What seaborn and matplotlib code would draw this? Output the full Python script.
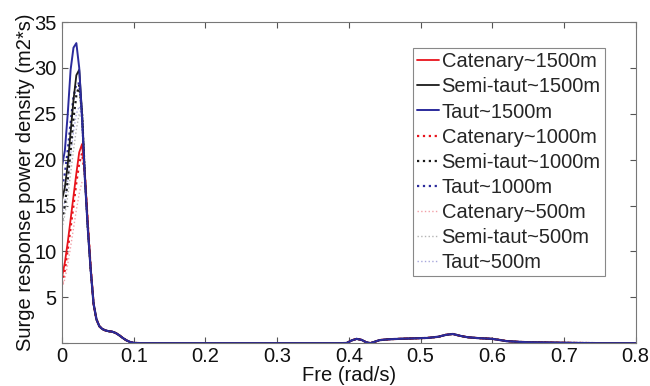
import numpy as np
import pandas as pd
import matplotlib
matplotlib.use("Agg")
import matplotlib.pyplot as plt
import seaborn as sns

# Frequency grid (rad/s): dense near the slow-drift peak, then the shared tail
freq_low = [0.000, 0.004, 0.008, 0.012, 0.016, 0.020, 0.024, 0.028, 0.032, 0.036, 0.040]
freq_tail = [0.044, 0.048, 0.052, 0.056, 0.060, 0.065, 0.070, 0.075, 0.080, 0.085,
             0.090, 0.095, 0.100, 0.110, 0.200, 0.300, 0.390, 0.397, 0.404, 0.411,
             0.418, 0.424, 0.430, 0.436, 0.443, 0.455, 0.470, 0.490, 0.510, 0.525,
             0.535, 0.545, 0.555, 0.565, 0.580, 0.600, 0.610, 0.620, 0.635, 0.650,
             0.700, 0.750, 0.800]

# Surge response spectra (m2*s) in the low-frequency band, per mooring / water depth
catenary_1500 = [7.2, 8.8, 11.0, 13.5, 16.0, 18.5, 20.8, 21.7, 18.3, 13.0, 8.2]
semitaut_1500 = [15.6, 17.0, 19.5, 23.0, 26.5, 29.2, 29.8, 25.0, 18.0, 12.5, 8.0]
taut_1500 = [19.3, 21.0, 25.0, 29.8, 32.2, 32.7, 30.0, 24.5, 17.8, 12.5, 8.0]
catenary_1000 = [6.5, 8.0, 10.2, 12.6, 15.0, 17.5, 19.6, 20.7, 18.2, 13.0, 8.2]
semitaut_1000 = [13.4, 15.0, 17.8, 21.0, 24.5, 27.0, 28.1, 25.0, 18.0, 12.5, 8.0]
taut_1000 = [17.0, 18.5, 21.0, 24.0, 26.8, 28.3, 28.3, 24.7, 18.0, 12.5, 8.0]
catenary_500 = [6.0, 7.0, 8.6, 10.5, 12.5, 14.5, 16.3, 17.6, 17.5, 13.0, 8.2]
semitaut_500 = [12.5, 14.0, 16.0, 18.5, 21.0, 23.3, 25.0, 24.3, 18.0, 12.5, 8.0]
taut_500 = [14.0, 15.5, 17.8, 20.5, 23.0, 25.0, 25.8, 24.5, 18.0, 12.5, 8.0]

# Wave-frequency band, common to all configurations
tail_values = [4.3, 2.6, 1.85, 1.55, 1.4, 1.3, 1.25, 1.1, 0.85, 0.55,
               0.3, 0.12, 0.03, 0.0, 0.0, 0.0, 0.0, 0.02, 0.3, 0.47,
               0.35, 0.1, 0.0, 0.15, 0.33, 0.42, 0.47, 0.52, 0.57, 0.7,
               0.9, 1.0, 0.8, 0.65, 0.55, 0.47, 0.35, 0.22, 0.15, 0.1,
               0.04, 0.0, 0.0]

labels = ["Catenary~1500m", "Semi-taut~1500m", "Taut~1500m",
          "Catenary~1000m", "Semi-taut~1000m", "Taut~1000m",
          "Catenary~500m", "Semi-taut~500m", "Taut~500m"]
series = [catenary_1500, semitaut_1500, taut_1500,
          catenary_1000, semitaut_1000, taut_1000,
          catenary_500, semitaut_500, taut_500]

styles = {
    "Catenary~1500m": dict(color="#e8141c", ls="-", lw=1.3),
    "Semi-taut~1500m": dict(color="#1a1a1a", ls="-", lw=1.3),
    "Taut~1500m": dict(color="#2b2b9c", ls="-", lw=1.4),
    "Catenary~1000m": dict(color="#e8141c", ls=":", lw=1.6),
    "Semi-taut~1000m": dict(color="#1a1a1a", ls=":", lw=1.6),
    "Taut~1000m": dict(color="#2b2b9c", ls=":", lw=1.6),
    "Catenary~500m": dict(color="#f2a0a8", ls=":", lw=1.0),
    "Semi-taut~500m": dict(color="#b4b4b4", ls=":", lw=1.0),
    "Taut~500m": dict(color="#a8a8dc", ls=":", lw=1.0),
}

frames = []
for lab, vals in zip(labels, series):
    frames.append(pd.DataFrame({"freq": freq_low + freq_tail,
                                "psd": list(vals) + tail_values,
                                "case": lab}))
df = pd.concat(frames, ignore_index=True)

sns.set_theme(style="white")
plt.rcParams["font.family"] = ["Liberation Sans", "DejaVu Sans"]

FS = 14.5

fig = plt.figure(figsize=(6.5, 3.86), dpi=100)
ax = fig.add_axes([0.0954, 0.111, 0.8826, 0.832])

# draw lighter (shallower) cases first so the 1500 m curves sit on top
draw_order = labels[6:] + labels[3:6] + labels[:3]
for lab in draw_order:
    st = styles[lab]
    sns.lineplot(data=df[df["case"] == lab], x="freq", y="psd", ax=ax,
                 color=st["color"], linestyle=st["ls"], linewidth=st["lw"],
                 label=lab, legend=False, estimator=None, sort=False)

ax.set_xlim(0, 0.8)
ax.set_ylim(0, 35)
ax.set_xticks(np.arange(0, 0.81, 0.1))
ax.set_xticklabels(["0", "0.1", "0.2", "0.3", "0.4", "0.5", "0.6", "0.7", "0.8"])
ax.set_yticks(np.arange(0, 36, 5))
ax.set_yticklabels(["", "5", "10", "15", "20", "25", "30", "35"])
ax.tick_params(direction="in", length=4, width=0.8, color="#555555",
               top=True, right=True, bottom=True, left=True,
               labelsize=FS, labelcolor="#111111")
ax.tick_params(axis="x", pad=3)
ax.tick_params(axis="y", pad=4)
for sp in ax.spines.values():
    sp.set_color("#777777")
    sp.set_linewidth(0.8)

ax.set_xlabel("Fre (rad/s)", fontsize=FS, labelpad=0, color="#111111")
ax.set_ylabel("Surge response power density (m2*s)", fontsize=FS, labelpad=-1,
              color="#111111")

handles, hlabels = ax.get_legend_handles_labels()
hmap = dict(zip(hlabels, handles))
leg = ax.legend([hmap[l] for l in labels], labels, loc="upper left",
                bbox_to_anchor=(0.611, 0.919), fontsize=FS, frameon=True,
                fancybox=False, edgecolor="#888888", framealpha=1,
                handlelength=1.1, handletextpad=0.12, labelspacing=0.3,
                borderpad=0.22, borderaxespad=0)
leg.get_frame().set_linewidth(0.8)

fig.savefig("out.png", dpi=100)
